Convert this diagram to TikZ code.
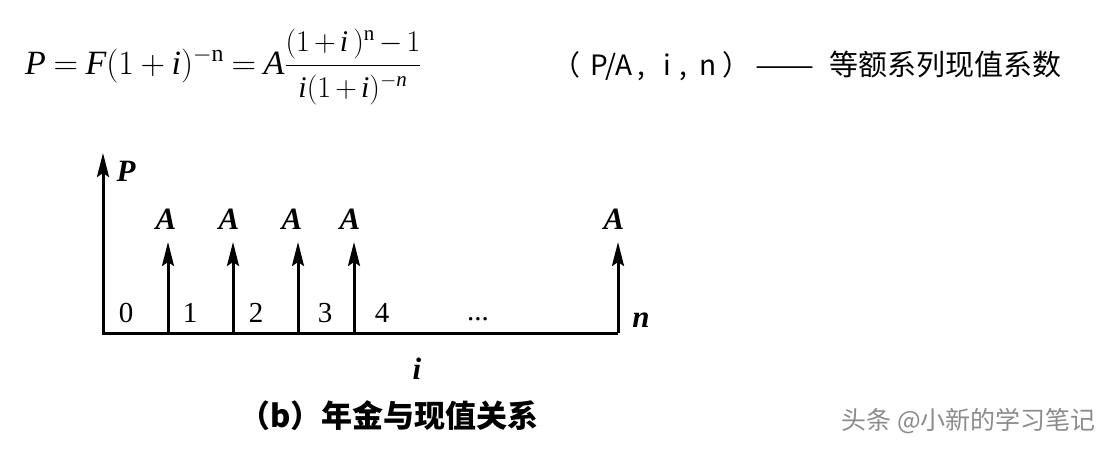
\RequirePackage{fix-cm}
\documentclass[tikz,border=0pt]{standalone}
\usepackage{amsmath}
\usepackage{graphicx}
\usepackage{fontspec}
\setmainfont{Liberation Serif}
\newfontfamily\cjk{Noto Sans CJK SC}
\newfontfamily\tms{Liberation Serif}
\usetikzlibrary{arrows.meta}
\begin{document}
\begin{tikzpicture}[x=1pt,y=-1pt,
  axisline/.style={line width=3pt,line join=miter,-{Stealth[length=24pt,width=12pt,inset=4pt]}},
  lbl/.style={font=\fontsize{31}{34}\selectfont\tms\bfseries\itshape,anchor=base,inner sep=0pt},
  num/.style={font=\fontsize{29}{32}\selectfont\tms,anchor=base,inner sep=0pt}]
\useasboundingbox[fill=white] (0,0) rectangle (1110,456);
% formula
\node[anchor=base west,inner sep=0pt] (eq) at (25,74) {\fontsize{34}{40}\selectfont
  \thickmuskip=4mu\medmuskip=3.5mu
  $\mathit{P}=\mathit{F}(1+\mathit{i})^{-\mathrm{n}}=\mathit{A}\dfrac{\mbox{\fontsize{30}{34}\selectfont\medmuskip=2.5mu$(1+\mathit{i}\,)^{\mathrm{n}}-1$}}{\mbox{\fontsize{30}{34}\selectfont\medmuskip=2.5mu$\mathit{i}(1+\mathit{i})^{-\mathit{n}}$}}$};
\node[anchor=west,inner sep=0pt] (fac) at (552,66) {\fontsize{28}{32}\selectfont\cjk （\hspace{10pt}P/A\hspace{5pt},\hspace{18pt}i\hspace{9pt},\hspace{12pt}n\hspace{6pt}）\hspace{5pt}\resizebox{59pt}{\height}{——}\hspace{15pt}{\fontsize{29}{32}\selectfont 等额系列现值系数}};
% axes
\coordinate (O) at (103,333);
\coordinate (Ptop) at (103,153);
\coordinate (E) at (618,333);
\draw[axisline] (E) -- (O) -- (Ptop);
\foreach \n/\x in {1/168,2/233,3/298,4/354,5/618}{
  \coordinate (b\n) at (\x,333);
  \coordinate (t\n) at (\x,242);
  \draw[axisline] (b\n) -- (t\n);
}
\node[lbl] (lP) at (126,181) {P};
\foreach \n/\x in {1/166,2/229,3/292,4/350,5/614}{
  \node[lbl] (lA\n) at (\x,229) {A};
}
\foreach \v/\x in {0/126,1/190,2/256,3/325,4/382}{
  \node[num] (k\v) at (\x,322) {\v};
}
\node[num] (dots) at (478,320) {...};
\node[lbl] (ln) at (641,327) {n};
\node[lbl] (li) at (417,379) {i};
\node[inner sep=0pt] (cap) at (389,416) {\fontsize{31}{34}\selectfont\cjk\bfseries （b）年金与现值关系};
\node[anchor=east,inner sep=0pt,text=black!45] (wm) at (1096,421) {\fontsize{25}{30}\selectfont\cjk 头条 @小新的学习笔记};
\end{tikzpicture}
\end{document}
